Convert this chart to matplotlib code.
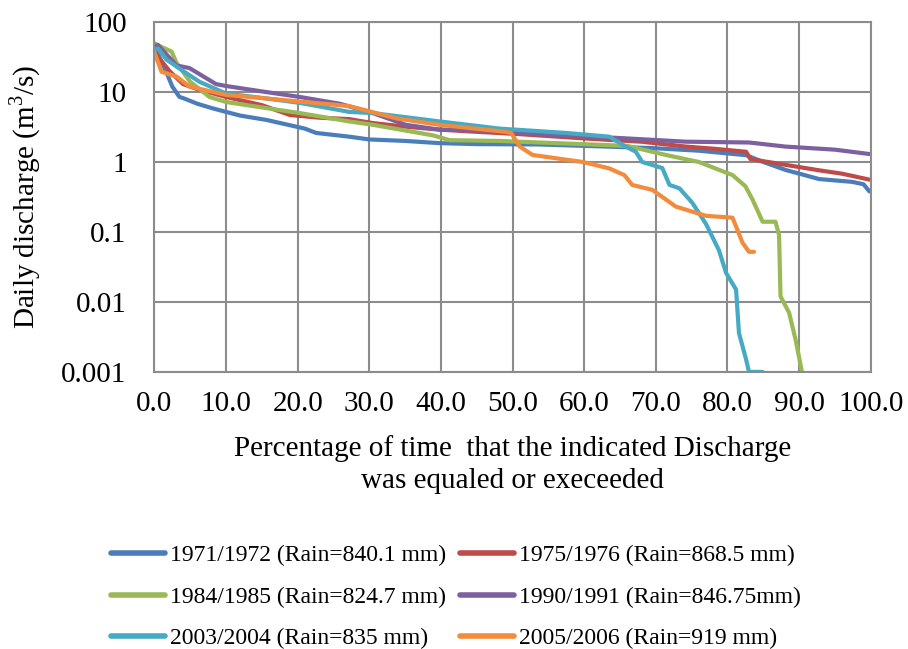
import matplotlib
matplotlib.use("Agg")
import matplotlib.pyplot as plt
from matplotlib.ticker import FixedLocator, FixedFormatter

# ---- data ----
labels = ["1971/1972 (Rain=840.1 mm)", "1975/1976 (Rain=868.5 mm)",
          "1984/1985 (Rain=824.7 mm)", "1990/1991 (Rain=846.75mm)",
          "2003/2004 (Rain=835 mm)", "2005/2006 (Rain=919 mm)"]
colors = ["#4A7EBB", "#BE4B48", "#98B954", "#7D60A0", "#46AAC5", "#F38B3C"]

pct_7172 = [0, 0.5, 1.7, 2.5, 3.5, 4, 6, 8, 10, 12, 15.6, 19.8, 21, 22.6, 27.2,
            30, 35, 39.8, 45, 53.7, 60, 69.5, 76, 82.6, 85, 88.1, 92.8, 97.4, 99, 99.8]
q_7172 = [45, 35, 19, 12, 8.5, 8.2, 6.8, 5.9, 5.2, 4.6, 4.0, 3.2, 3.0, 2.6, 2.3,
          2.1, 2.0, 1.86, 1.8, 1.78, 1.7, 1.58, 1.45, 1.25, 1.0, 0.77, 0.57, 0.52, 0.48, 0.38]

pct_7576 = [0, 0.5, 2.1, 4, 6, 10, 15, 18.9, 23, 27.2, 30.5, 35, 39.8, 45, 51,
            60.7, 68, 74.2, 78, 82.6, 83.2, 87, 92.8, 96, 99.8]
q_7576 = [40, 32, 20, 13, 11, 8.5, 6.5, 4.7, 4.3, 4.1, 3.6, 3.2, 2.9, 2.7, 2.5,
          2.15, 1.95, 1.66, 1.55, 1.4, 1.1, 0.95, 0.76, 0.68, 0.56]

pct_8485 = [0, 1, 2.4, 3.1, 5, 7.7, 10, 15.6, 20.3, 27.2, 30.5, 38.9, 41.2, 48.2,
            53.7, 66, 71.4, 76, 80.7, 82.5, 83.5, 84.9, 86.7, 87.2, 87.4, 88.6, 89.5, 90.4]
q_8485 = [50, 44, 38, 26, 14, 8.5, 7.2, 5.9, 5.0, 3.8, 3.4, 2.4, 2.05, 2.0,
          1.9, 1.7, 1.26, 1.0, 0.65, 0.45, 0.29, 0.14, 0.14, 0.09, 0.012, 0.007, 0.0029, 0.001]

pct_9091 = [0, 0.5, 3.1, 4.9, 8.6, 10, 15.6, 20.3, 25.9, 30.5, 35.1, 39.8, 48.2,
            53.7, 65, 74.2, 83, 88.1, 95, 99.8]
q_9091 = [45, 47, 24, 22, 13, 12.2, 10, 8.5, 6.8, 5.0, 3.4, 2.9, 2.8,
          2.5, 2.2, 1.95, 1.9, 1.66, 1.5, 1.3]

pct_0304 = [0, 0.5, 1.7, 4, 6.3, 10, 15.6, 20.3, 27.2, 30.5, 39.8, 48.2, 57.5,
            63.5, 65.8, 67.2, 68.1, 70.9, 71.9, 73.3, 75.1, 77, 78.8, 79.8, 81.2,
            81.6, 82.6, 83, 84.9]
q_0304 = [40, 42, 29, 20, 14, 9.5, 8.1, 7.0, 5.2, 5.0, 3.8, 3.0, 2.6,
          2.3, 1.66, 1.4, 1.0, 0.82, 0.47, 0.42, 0.26, 0.13, 0.055, 0.026, 0.015,
          0.0036, 0.0015, 0.001, 0.001]

pct_0506 = [0, 1, 3.1, 4.9, 10, 15.6, 20.3, 27.2, 33.8, 39.8, 49, 49.8, 51,
            52.8, 59.8, 63.5, 65.6, 66.7, 69.5, 72.8, 77, 80.7, 82.1, 83, 83.7]
q_0506 = [37, 19.5, 16.6, 12, 9.1, 8.1, 7.3, 6.3, 4.2, 3.4, 2.7, 2.6, 1.66,
          1.26, 1.0, 0.81, 0.65, 0.47, 0.4, 0.23, 0.17, 0.16, 0.07, 0.052, 0.052]

x_ticks = [0, 10, 20, 30, 40, 50, 60, 70, 80, 90, 100]
y_ticks = [0.001, 0.01, 0.1, 1, 10, 100]
y_ticklabels = ["0.001", "0.01", "0.1", "1", "10", "100"]

series = [(pct_7172, q_7172), (pct_7576, q_7576), (pct_8485, q_8485),
          (pct_9091, q_9091), (pct_0304, q_0304), (pct_0506, q_0506)]

plt.rcParams["font.family"] = ["Liberation Serif", "DejaVu Serif"]
plt.rcParams["mathtext.fontset"] = "custom"
plt.rcParams["mathtext.rm"] = "Liberation Serif"

fig = plt.figure(figsize=(9.08, 6.49), dpi=100)
ax = fig.add_axes([0.170, 0.427, 0.789, 0.539])

lines = []
for (x, y), lab, c in zip(series, labels, colors):
    ln, = ax.plot(x, y, color=c, lw=3, label=lab,
                  solid_capstyle="round", solid_joinstyle="round")
    lines.append(ln)

ax.set_yscale("log")
ax.set_xlim(0, 100)
ax.set_ylim(0.001, 100)
ax.yaxis.set_major_locator(FixedLocator(y_ticks))
ax.yaxis.set_major_formatter(FixedFormatter(y_ticklabels))
ax.yaxis.set_minor_locator(FixedLocator([]))
ax.set_xticks(x_ticks)
ax.set_xticklabels([f"{v:.1f}" for v in x_ticks])
ax.tick_params(length=0, labelsize=21)
ax.tick_params(axis="x", pad=14)
ax.tick_params(axis="y", pad=20)
ax.grid(True, color="#8c8c8c", lw=1.5)
ax.set_axisbelow(True)
for s in ax.spines.values():
    s.set_color("#8c8c8c")
    s.set_linewidth(1.5)

ax.set_xlabel("Percentage of time  that the indicated Discharge\nwas equaled or execeeded",
              fontsize=21, linespacing=1.3, va="top")
ax.xaxis.set_label_coords(0.5, -0.18)
ax.set_ylabel("Daily discharge (m$^{\\rm 3}$/s)", fontsize=21)
ax.yaxis.set_label_coords(-0.156, 0.5)

# Excel fills the legend row by row; matplotlib fills by column
order = [0, 2, 4, 1, 3, 5]
leg = fig.legend([lines[i] for i in order], [labels[i] for i in order],
                 loc="center", bbox_to_anchor=(0.502, 0.080), ncol=2, frameon=False,
                 fontsize=17, handlelength=2.3, handletextpad=0.2, columnspacing=0.6,
                 labelspacing=0.85)
for h in leg.legend_handles:
    h.set_linewidth(4)

fig.savefig("out.png", dpi=100)
